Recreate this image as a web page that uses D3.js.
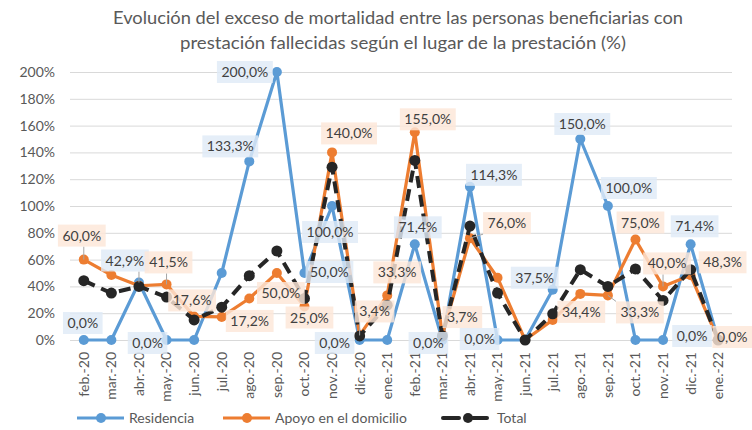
<!DOCTYPE html>
<html>
<head>
<meta charset="utf-8">
<script src="https://cdn.jsdelivr.net/npm/d3@7"></script>
<style>
  html, body { margin: 0; padding: 0; background: #fff; }
  svg { display: block; font-family: Lato, "Open Sans", sans-serif; }
</style>
</head>
<body>
<svg id="chart" width="752" height="430"></svg>
<script>
// Months (x categories)
const months = ["feb.-20","mar.-20","abr.-20","may.-20","jun.-20","jul.-20","ago.-20","sep.-20",
  "oct.-20","nov.-20","dic.-20","ene.-21","feb.-21","mar.-21","abr.-21","may.-21","jun.-21",
  "jul.-21","ago.-21","sep.-21","oct.-21","nov.-21","dic.-21","ene.-22"];

// Excess mortality (%) by place of service
const residencia = [0, 0, 42.9, 0, 0, 50, 133.3, 200, 50, 100, 0, 0, 71.4, 0, 114.3, 0, 0, 37.5, 150, 100, 0, 0, 71.4, 0];
const domicilio  = [60, 48.5, 40.5, 41.5, 17.6, 17.2, 31, 50, 25, 140, 3.4, 33.3, 155, 3.7, 76, 46.5, 0, 15, 34.4, 33.3, 75, 40, 48.3, 0];
const total      = [44.3, 35, 40, 32, 15, 24.5, 48, 66.5, 31, 129, 3, 26, 134, 3, 85, 35, 0, 19.5, 52.5, 40, 53, 29.5, 52.5, 0];

const yTicks = [0, 20, 40, 60, 80, 100, 120, 140, 160, 180, 200];
const seriesNames = ["Residencia", "Apoyo en el domicilio", "Total"];

// Data label placement: [month index, dx, dy, leader line]
const residenciaLabels = [
  [0, -1, -17], [2, -14, -22, true], [3, -19, 3], [6, -19, -15], [7, -32, 0], [8, 25, -1],
  [9, -2, 26], [10, -25, 3], [12, 3, -17], [13, -14, 3], [14, 24, -12], [15, -18, -1],
  [17, -18, -12], [18, 2, -15], [19, 21, -18], [21, 29, -4], [22, 4, -18]
];
const domicilioLabels = [
  [0, -2, -24, true], [3, 2, -22, true], [4, -2, -16], [5, 28, 4], [7, 4, 20], [8, 5, 11],
  [9, 17, -19], [10, 15, -24, true], [11, 10, -23], [12, 13, -13], [13, 20, -18],
  [14, 37, -15, true], [18, 1, 18], [19, 32, 17, true], [20, 5, -17], [21, 4, -23, true],
  [22, 32, -13], [23, 14, -3]
];

const svg = d3.select("#chart");
const textColor = "#595959";
const colors = { res: "#5b9bd5", dom: "#ed7d31", tot: "#262626" };

const x = d3.scaleBand().domain(months).range([70, 732]);
const y = d3.scaleLinear().domain([0, 200]).range([340, 72]);
const cx = i => x(months[i]) + x.bandwidth() / 2;

// Title
const title = svg.append("g").attr("fill", textColor).attr("text-anchor", "middle")
  .style("font-size", "18px");
title.append("text").attr("x", 398).attr("y", 24)
  .attr("textLength", 570).attr("lengthAdjust", "spacingAndGlyphs")
  .text("Evolución del exceso de mortalidad entre las personas beneficiarias con");
title.append("text").attr("x", 403).attr("y", 49)
  .attr("textLength", 446).attr("lengthAdjust", "spacingAndGlyphs")
  .text("prestación fallecidas según el lugar de la prestación (%)");

// Gridlines + y axis labels
const yAxis = svg.append("g").attr("transform", "translate(70,0)")
  .call(d3.axisLeft(y).tickValues(yTicks).tickSize(-662).tickFormat(d => d + "%").tickPadding(15));
yAxis.select(".domain").remove();
yAxis.selectAll(".tick line").attr("stroke", "#d9d9d9").attr("stroke-width", 1);
yAxis.selectAll(".tick text").attr("fill", textColor).style("font-size", "14px")
  .style("font-family", "Lato, sans-serif");

// x axis labels, rotated
const xAxis = svg.append("g").attr("transform", "translate(0,340)")
  .call(d3.axisBottom(x).tickSize(0).tickPadding(0));
xAxis.select(".domain").remove();
xAxis.selectAll(".tick text")
  .attr("fill", textColor).style("font-size", "14px").style("font-family", "Lato, sans-serif")
  .attr("transform", "rotate(-90)")
  .attr("text-anchor", "end").attr("x", -12).attr("y", 0).attr("dy", "0.35em");

const line = d3.line().x((d, i) => cx(i)).y(d => y(d));

function drawSeries(values, color, dashed) {
  const g = svg.append("g");
  g.append("path").datum(values).attr("d", line)
    .attr("fill", "none").attr("stroke", color)
    .attr("stroke-width", dashed ? 4 : 3.2)
    .attr("stroke-linejoin", "round")
    .attr("stroke-dasharray", dashed ? "12,7" : null);
  g.selectAll("circle").data(values).join("circle")
    .attr("cx", (d, i) => cx(i)).attr("cy", d => y(d))
    .attr("r", dashed ? 5.5 : 5).attr("fill", color);
}
drawSeries(residencia, colors.res, false);
drawSeries(domicilio, colors.dom, false);
drawSeries(total, colors.tot, true);

// Data labels
const fmt = v => d3.format(".1f")(v).replace(".", ",") + "%";
function drawLabels(values, specs, bg) {
  const g = svg.append("g");
  specs.forEach(([i, dx, dy, leader]) => {
    const px = cx(i), py = y(values[i]);
    const lx = px + dx, ly = py + dy;
    const t = g.append("text").attr("x", lx).attr("y", ly).attr("dy", "0.36em")
      .attr("text-anchor", "middle").attr("fill", "#404040")
      .style("font-size", "14px").text(fmt(values[i]));
    const w = t.node().getComputedTextLength() + 9, h = 22;
    if (leader) {
      const bx = Math.max(lx - w / 2, Math.min(px, lx + w / 2));
      const by = Math.max(ly - h / 2, Math.min(py, ly + h / 2));
      g.insert("line", "text").attr("x1", bx).attr("y1", by).attr("x2", px).attr("y2", py)
        .attr("stroke", "#a6a6a6").attr("stroke-width", 1);
    }
    g.insert("rect", "text").attr("x", lx - w / 2).attr("y", ly - h / 2)
      .attr("width", w).attr("height", h).attr("fill", bg).attr("fill-opacity", 0.82);
  });
}
drawLabels(residencia, residenciaLabels, "#dfeaf6");
drawLabels(domicilio, domicilioLabels, "#fce6d8");

// Legend
const legendItems = [
  { name: seriesNames[0], color: colors.res, x: 77, dashed: false },
  { name: seriesNames[1], color: colors.dom, x: 223, dashed: false },
  { name: seriesNames[2], color: colors.tot, x: 443, dashed: true }
];
const lg = svg.append("g");
legendItems.forEach(it => {
  const g = lg.append("g").attr("transform", `translate(${it.x},418)`);
  if (it.dashed) {
    g.append("line").attr("x1", 0).attr("x2", 16).attr("stroke", it.color).attr("stroke-width", 4).attr("stroke-linecap", "round");
    g.append("line").attr("x1", 30).attr("x2", 44).attr("stroke", it.color).attr("stroke-width", 4).attr("stroke-linecap", "round");
  } else {
    g.append("line").attr("x1", 0).attr("x2", 47).attr("stroke", it.color).attr("stroke-width", 3.2);
  }
  g.append("circle").attr("cx", it.dashed ? 25 : 24).attr("r", 5).attr("fill", it.color);
  g.append("text").attr("x", it.dashed ? 54 : 52).attr("dy", "0.35em").attr("fill", textColor)
    .style("font-size", "14px").text(it.name);
});
</script>
</body>
</html>
